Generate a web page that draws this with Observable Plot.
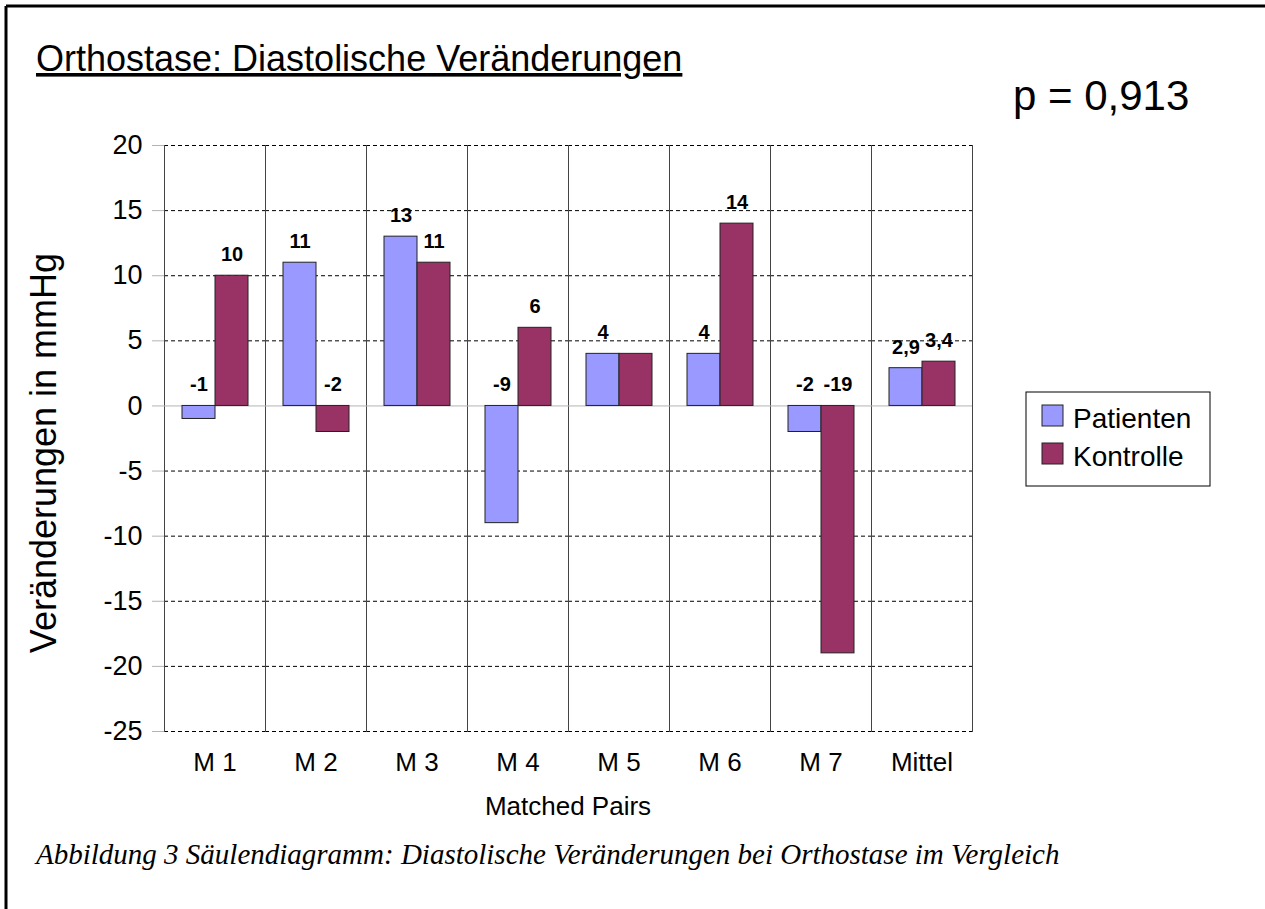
<!DOCTYPE html>
<html>
<head>
<meta charset="utf-8">
<script src="https://cdn.jsdelivr.net/npm/d3@7"></script>
<script src="https://cdn.jsdelivr.net/npm/@observablehq/plot@0.6"></script>
<style>
  html, body { margin: 0; padding: 0; background: #fff; }
  #chart svg { display: block; font-family: "Liberation Sans", Arial, sans-serif; }
</style>
</head>
<body>
<div id="chart"></div>
<script>
// ---- data ----
const categories = ["M 1", "M 2", "M 3", "M 4", "M 5", "M 6", "M 7", "Mittel"];
const series = ["Patienten", "Kontrolle"];
const patienten = [-1, 11, 13, -9, 4, 4, -2, 2.9];
const kontrolle = [10, -2, 11, 6, 4, 14, -19, 3.4];
// labels shown on the chart (the M 5 Kontrolle label is hidden in the original)
const showPatienten = [true, true, true, true, true, true, true, true];
const showKontrolle = [true, true, true, true, false, true, true, true];
const yTicks = [-25, -20, -15, -10, -5, 0, 5, 10, 15, 20];
const colors = ["#9999FF", "#993366"];
const titleText = "Orthostase: Diastolische Veränderungen";
const pText = "p = 0,913";
const yLabel = "Veränderungen in mmHg";
const xLabel = "Matched Pairs";
const captionText = "Abbildung 3 Säulendiagramm: Diastolische Veränderungen bei Orthostase im Vergleich";

const rows = [];
categories.forEach((c, i) => {
  rows.push({cat: c, series: series[0], value: patienten[i], show: showPatienten[i]});
  rows.push({cat: c, series: series[1], value: kontrolle[i], show: showKontrolle[i]});
});
const fmt = v => String(v).replace(".", ",");

const W = 1265, H = 909;
const mL = 162, mR = 291, mT = 145, mB = 178;

const chart = Plot.plot({
  width: W,
  height: H,
  marginLeft: mL,
  marginRight: mR,
  marginTop: mT,
  marginBottom: mB,
  style: {fontFamily: "Liberation Sans, Arial, sans-serif", background: "white"},
  fx: {domain: categories, padding: 0, label: null},
  x: {domain: series, paddingInner: 0, paddingOuter: 0.49, axis: null},
  y: {domain: [-25, 20], label: null},
  color: {domain: series, range: colors},
  marks: [
    Plot.ruleY(yTicks.filter(d => d !== 0), {stroke: "#000", strokeDasharray: "4,3", strokeWidth: 1}),
    Plot.frame({anchor: "left", stroke: "#444"}),
    Plot.frame({anchor: "right", stroke: "#444"}),
    Plot.ruleY([0], {stroke: "#b3b3b3", strokeWidth: 1}),
    Plot.axisY(yTicks, {tickSize: 12, tickPadding: 10, stroke: "#b3b3b3", fill: "#000", fontSize: 27,
      tickFormat: d => String(d), label: null}),
    Plot.axisFx({anchor: "bottom", tickSize: 0, tickPadding: 21, fontSize: 26, fill: "#000", label: null}),
    Plot.barY(rows, {fx: "cat", x: "series", y: "value", fill: "series", stroke: "#222", strokeWidth: 1}),
    Plot.text(rows.filter(d => d.show), {
      fx: "cat", x: "series", y: d => Math.max(d.value, 0), text: d => fmt(d.value),
      dy: -21, fontSize: 20, fontWeight: "bold", fill: "#000"
    })
  ]
});

document.getElementById("chart").appendChild(chart);

// ---- extra text & decoration inside the same svg ----
const svg = d3.select(chart);
const font = "Liberation Sans, Arial, sans-serif";

// page border (top & left only, as in original)
svg.append("line").attr("x1", 6).attr("x2", W).attr("y1", 6).attr("y2", 6)
  .attr("stroke", "#000").attr("stroke-width", 3);
svg.append("line").attr("x1", 6).attr("x2", 6).attr("y1", 6).attr("y2", H)
  .attr("stroke", "#000").attr("stroke-width", 3);

// title (underlined)
svg.append("text").attr("x", 36).attr("y", 71).attr("font-family", font)
  .attr("text-anchor", "start")
  .attr("font-size", 36).attr("fill", "#000")
  .attr("text-decoration", "underline").text(titleText);

// p value
svg.append("text").attr("x", 1013).attr("y", 110).attr("font-family", font)
  .attr("text-anchor", "start")
  .attr("font-size", 42).attr("fill", "#000").text(pText);

// y-axis label
svg.append("text").attr("transform", `translate(56, 453) rotate(-90)`)
  .attr("text-anchor", "middle").attr("font-family", font)
  .attr("font-size", 36).attr("fill", "#000").text(yLabel);

// x-axis label
svg.append("text").attr("x", (mL + (W - mR)) / 2).attr("y", 815)
  .attr("text-anchor", "middle").attr("font-family", font)
  .attr("font-size", 26).attr("fill", "#000").text(xLabel);

// legend
const lg = svg.append("g").attr("transform", "translate(1026, 392)");
lg.append("rect").attr("width", 184).attr("height", 94)
  .attr("fill", "#fff").attr("stroke", "#000").attr("stroke-width", 1);
series.forEach((s, i) => {
  const g = lg.append("g").attr("transform", `translate(16, ${13 + i * 38})`);
  g.append("rect").attr("width", 21).attr("height", 21)
    .attr("fill", colors[i]).attr("stroke", "#222").attr("stroke-width", 1);
  g.append("text").attr("x", 31).attr("y", 23).attr("font-family", font)
    .attr("text-anchor", "start")
    .attr("font-size", 28).attr("fill", "#000").text(s);
});

// caption
svg.append("text").attr("x", 36).attr("y", 864)
  .attr("font-family", "Liberation Serif, Times New Roman, serif")
  .attr("text-anchor", "start")
  .attr("font-style", "italic").attr("font-size", 29).attr("fill", "#000")
  .text(captionText);
</script>
</body>
</html>
